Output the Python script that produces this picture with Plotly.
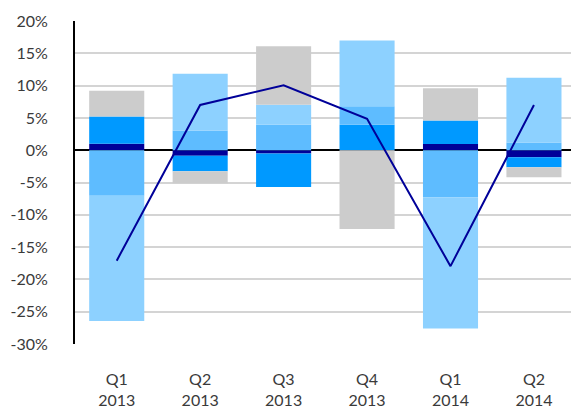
import plotly.graph_objects as go

quarters = ["Q1<br>2013", "Q2<br>2013", "Q3<br>2013", "Q4<br>2013", "Q1<br>2014", "Q2<br>2014"]

# Components of the quarterly change, % (stacked: positives up, negatives down)
comp_dark = [1.0, -0.85, -0.5, 0.0, 0.95, -1.1]
comp_mid = [4.2, -2.4, -5.2, 3.95, 3.65, -1.55]
comp_light = [-7.05, 3.05, 3.95, 2.85, -7.3, 1.2]
comp_lightest = [-19.4, 8.8, 3.1, 10.2, -20.3, 10.0]
comp_grey = [4.0, -1.85, 9.05, -12.2, 5.0, -1.55]

# Overall change, %
total = [-17.1, 7.0, 10.05, 4.85, -17.95, 7.0]

series = [
    ("dark", comp_dark, "#000099"),
    ("mid", comp_mid, "#0099ff"),
    ("light", comp_light, "#5ebcff"),
    ("lightest", comp_lightest, "#8dd1ff"),
    ("grey", comp_grey, "#cccccc"),
]

fig = go.Figure()
for name, vals, color in series:
    fig.add_trace(go.Bar(
        x=quarters, y=vals, name=name,
        marker=dict(color=color, line=dict(width=0)),
        showlegend=False,
    ))

fig.add_trace(go.Scatter(
    x=quarters, y=total, mode="lines",
    line=dict(color="#000099", width=2),
    showlegend=False,
))

font = dict(family="Lato, Open Sans, sans-serif", size=16, color="#3a3a3a")

fig.update_layout(
    width=571, height=410,
    margin=dict(l=75, r=0, t=21, b=66),
    barmode="relative",
    bargap=0.34,
    plot_bgcolor="white",
    paper_bgcolor="white",
    font=font,
    xaxis=dict(
        range=[-0.5, 5.444],
        showgrid=False,
        showline=False,
        zeroline=False,
        ticks="",
        ticklabelstandoff=24,
        tickfont=font,
    ),
    yaxis=dict(
        range=[-30, 20],
        tickvals=[20, 15, 10, 5, 0, -5, -10, -15, -20, -25, -30],
        ticktext=["20%", "15%", "10%", "5%", "0%", "-5%", "-10%", "-15%", "-20%", "-25%", "-30%"],
        showgrid=True,
        gridcolor="#d4d4d4",
        gridwidth=2,
        zeroline=True,
        zerolinecolor="black",
        zerolinewidth=2,
        showline=True,
        linecolor="black",
        linewidth=2,
        ticks="",
        ticklabelstandoff=22,
        tickfont=font,
    ),
)

fig.write_html("out.html")
